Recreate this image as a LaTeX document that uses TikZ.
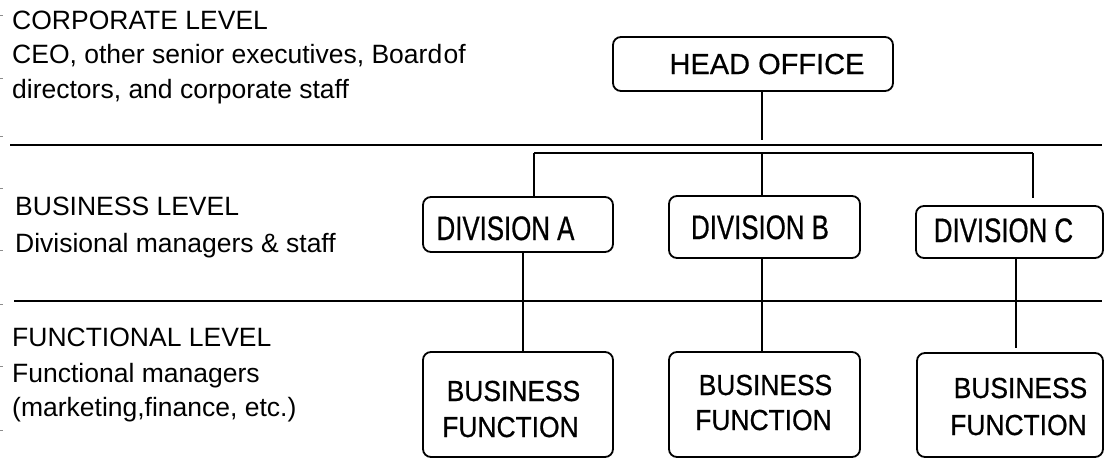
\documentclass[tikz,border=0pt]{standalone}
\usepackage{fontspec}
\setmainfont{Liberation Sans}
\newfontfamily\headfont[FakeBold=0.5]{Liberation Sans}
\newfontfamily\divfont[FakeStretch=0.76,FakeBold=0.6]{Liberation Sans}
\newfontfamily\bffont[FakeStretch=0.91,FakeBold=0.6]{Liberation Sans}
\begin{document}
\begin{tikzpicture}[x=1pt,y=-1pt,
  box/.style={draw, line width=1.8pt, rounded corners=8pt, inner sep=0pt},
  conn/.style={line width=1.4pt},
  sepline/.style={line width=2.6pt},
  tickmark/.style={line width=1pt, draw=black!45},
  lefttxt/.style={anchor=base west, inner sep=0pt, font=\fontsize{26.5}{30}\selectfont},
  headtxt/.style={anchor=base, inner sep=0pt, font=\headfont\fontsize{29}{34}\selectfont},
  divtxt/.style={anchor=base, inner sep=0pt, font=\divfont\fontsize{34}{38}\selectfont},
  bftxt/.style={anchor=base, inner sep=0pt, font=\bffont\fontsize{29}{34}\selectfont}
]
\useasboundingbox (0,0) rectangle (1104,459);

% left texts
\node[lefttxt] (c1) at (12,29) {CORPORATE LEVEL};
\node[lefttxt] (c2) at (12,63) {CEO, other senior executives, Board\hspace{1.5pt}of};
\node[lefttxt] (c3) at (12,98) {directors, and corporate staff};
\node[lefttxt] (b1) at (15,215) {BUSINESS LEVEL};
\node[lefttxt] (b2) at (15,252) {Divisional managers \& staff};
\node[lefttxt] (f1) at (12,346) {FUNCTIONAL LEVEL};
\node[lefttxt] (f2) at (12,382) {Functional managers};
\node[lefttxt] (f3) at (12,416) {(marketing,finance, etc.)};

% tick marks at left edge
\foreach \ty in {15,78,136,188,250,304,366,430}
  \draw[tickmark] (0,\ty) -- (3,\ty);

% separator lines
\coordinate (s1a) at (10,145);
\coordinate (s1b) at (1102,145);
\coordinate (s2a) at (14,301);
\coordinate (s2b) at (1102,301);
\draw[sepline] (s1a) -- (s1b);
\draw[sepline] (s2a) -- (s2b);

% boxes
\node[box, minimum width=280pt, minimum height=54pt] (head) at (753,64) {};
\node[headtxt] (headt) at (767,74) {HEAD OFFICE};

\node[box, minimum width=190pt, minimum height=55pt] (da) at (518,224.5) {};
\node[box, minimum width=191pt, minimum height=62pt] (db) at (764.5,227) {};
\node[box, minimum width=187pt, minimum height=52pt] (dc) at (1009.5,232) {};
\node[divtxt] (dat) at (505.5,240) {DIVISION A};
\node[divtxt] (dbt) at (760,239) {DIVISION B};
\node[divtxt] (dct) at (1003.5,242) {DIVISION C};

\node[box, minimum width=190pt, minimum height=105pt] (fa) at (518,404.5) {};
\node[box, minimum width=191pt, minimum height=105pt] (fb) at (764.5,404.5) {};
\node[box, minimum width=186pt, minimum height=104pt] (fc) at (1010,405) {};
\node[bftxt] (fa1) at (513.5,401) {BUSINESS};
\node[bftxt] (fa2) at (510.5,437) {FUNCTION};
\node[bftxt] (fb1) at (765.5,395) {BUSINESS};
\node[bftxt] (fb2) at (763.5,430) {FUNCTION};
\node[bftxt] (fc1) at (1020.5,398) {BUSINESS};
\node[bftxt] (fc2) at (1018.5,435) {FUNCTION};

% connectors
\coordinate (hj) at (762,140);
\coordinate (busL) at (534,153);
\coordinate (busM) at (762,153);
\coordinate (busR) at (1033,153);
\coordinate (cEnd) at (1033,198);
\coordinate (ax) at (523,0);
\coordinate (bx) at (762,0);
\coordinate (cx) at (1016,0);
\coordinate (cLow) at (1016,348);

\draw[conn] (head.south -| hj) -- (hj);
\draw[conn] (busL) -- (busR);
\draw[conn] (busL) -- (busL |- da.north);
\draw[conn] (busM) -- (busM |- db.north);
\draw[conn] (busR) -- (cEnd);
\draw[conn] (da.south -| ax) -- (fa.north -| ax);
\draw[conn] (db.south -| bx) -- (fb.north -| bx);
\draw[conn] (dc.south -| cx) -- (cLow);
\end{tikzpicture}
\end{document}
